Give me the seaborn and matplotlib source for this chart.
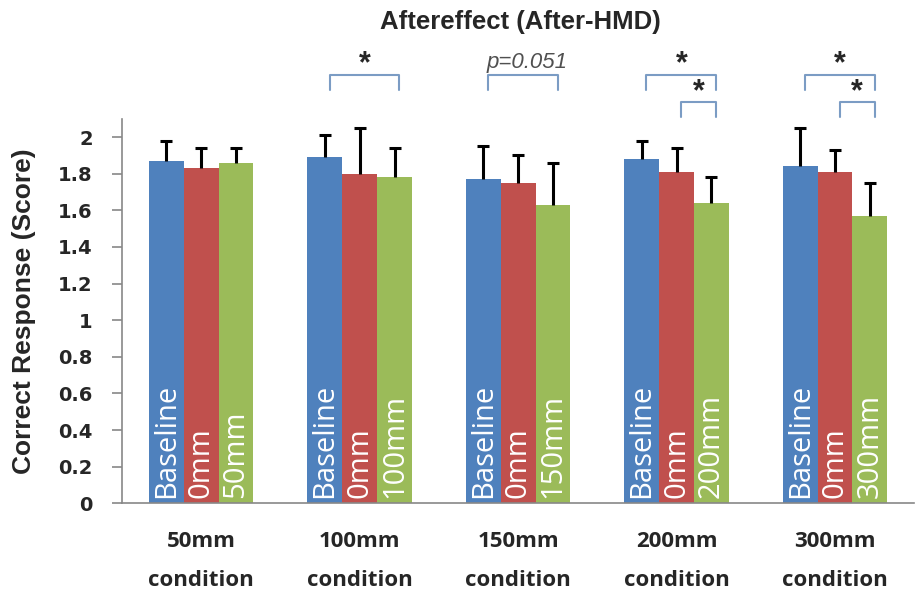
import numpy as np
import pandas as pd
import matplotlib
matplotlib.use("Agg")
import matplotlib.pyplot as plt
import seaborn as sns

# values
conditions = ["50mm", "100mm", "150mm", "200mm", "300mm"]
groups = ["Baseline", "0mm", "Shifted"]
baseline = [1.87, 1.89, 1.77, 1.88, 1.84]
zero_mm = [1.83, 1.80, 1.75, 1.81, 1.81]
shifted = [1.86, 1.78, 1.63, 1.64, 1.57]
baseline_err = [0.11, 0.12, 0.18, 0.10, 0.21]
zero_err = [0.11, 0.25, 0.15, 0.13, 0.12]
shifted_err = [0.08, 0.16, 0.23, 0.14, 0.18]

# significance marks: (condition index, first bar, last bar, level, label)
marks = [
    (1, 0, 2, 0, "*"),
    (2, 0, 2, 0, "p=0.051"),
    (3, 0, 2, 0, "*"),
    (3, 1, 2, 1, "*"),
    (4, 0, 2, 0, "*"),
    (4, 1, 2, 1, "*"),
]

colors = ["#4F81BD", "#C0504D", "#9BBB59"]

df = pd.DataFrame({
    "condition": conditions * 3,
    "group": [g for g in groups for _ in conditions],
    "score": baseline + zero_mm + shifted,
})
errs = [baseline_err, zero_err, shifted_err]

sns.set_style("white")
fig = plt.figure(figsize=(9.17, 5.97), dpi=100)
ax = fig.add_axes([0.133, 0.157, 0.864, 0.644])

sns.barplot(data=df, x="condition", y="score", hue="group", hue_order=groups,
            palette=colors, width=0.66, errorbar=None, saturation=1,
            linewidth=0, ax=ax, legend=False)

# error bars (upper half only) and the labels inside the bars
centers = {}
bar_conts = list(ax.containers)
for gi, cont in enumerate(bar_conts):
    for ci, bar in enumerate(cont):
        x = bar.get_x() + bar.get_width() / 2
        h = bar.get_height()
        centers[(ci, gi)] = x
        eb = ax.errorbar(x, h, yerr=[[0], [errs[gi][ci]]], fmt="none",
                         ecolor="black", elinewidth=2.2, capsize=4,
                         capthick=2.2)
        for cap in eb[1]:
            if abs(cap.get_ydata()[0] - h) < 1e-9:
                cap.set_visible(False)
        label = groups[gi] if gi < 2 else conditions[ci]
        ax.text(x, 0.03, label, rotation=90, ha="center", va="bottom",
                color="white", fontsize=21, family="Open Sans")

# significance brackets
bcol = "#7B9CC4"
for ci, b1, b2, lev, txt in marks:
    x1 = centers[(ci, b1)] + 0.03
    x2 = centers[(ci, b2)] + 0.03
    y0 = 2.26 - lev * 0.15
    y1 = 2.34 - lev * 0.15
    ax.plot([x1, x1, x2, x2], [y0, y1, y1, y0], color=bcol, lw=1.5,
            clip_on=False)
    if txt == "*":
        ax.text((x1 + x2) / 2, y1 - 0.025, "*", ha="center", va="bottom",
                fontsize=22, fontweight="bold", family="Liberation Sans")
    else:
        ax.text(x1 - 0.01, y1 + 0.01, txt, ha="left", va="bottom",
                fontsize=16, style="italic", color="#505050",
                family="Liberation Sans")

ax.set_ylim(0, 2.1)
ax.set_xlim(-0.5, 4.5)
ax.set_yticks(np.arange(0, 2.01, 0.2))
ax.set_yticklabels(["0", "0.2", "0.4", "0.6", "0.8", "1", "1.2", "1.4",
                    "1.6", "1.8", "2"], fontsize=14, fontweight="bold",
                   family="DejaVu Sans")
ax.set_xticks(range(len(conditions)))
ax.set_xticklabels([c + "\ncondition" for c in conditions], fontsize=16,
                   fontweight="bold", family="Open Sans", linespacing=2.15)
ax.set_xticks(np.arange(-0.5, 5, 1), minor=True)
ax.tick_params(axis="x", which="major", length=0, pad=20)
ax.tick_params(axis="x", which="minor", length=10, color="#888888", width=1.2)
ax.tick_params(axis="y", length=7, color="#888888", width=1.2, left=True,
               pad=14)

for s in ["top", "right"]:
    ax.spines[s].set_visible(False)
for s in ["left", "bottom"]:
    ax.spines[s].set_color("#888888")
    ax.spines[s].set_linewidth(1.2)

ax.set_xlabel("")
ax.set_ylabel("Correct Response (Score)", fontsize=19, fontweight="bold",
              family="Liberation Sans")
ax.yaxis.set_label_coords(-0.108, 0.5)
fig.text(0.567, 0.963, "Aftereffect (After-HMD)", ha="center", va="center",
         fontsize=18.5, fontweight="bold", family="Liberation Sans")

fig.savefig("out.png", dpi=100)
